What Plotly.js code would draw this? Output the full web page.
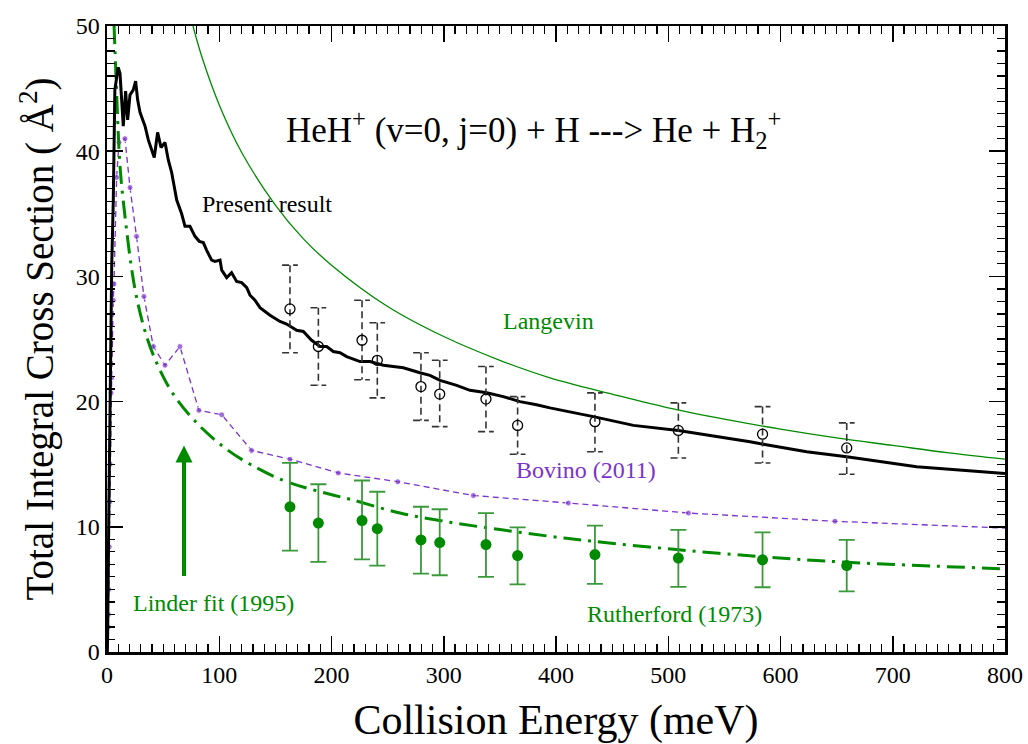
<!DOCTYPE html>
<html>
<head>
<meta charset="utf-8">
<script src="https://cdn.plot.ly/plotly-3.0.1.min.js"></script>
<style>html,body{margin:0;padding:0;background:#fff;}#chart{width:1028px;height:744px;}</style>
</head>
<body>
<div id="chart"></div>
<script>
// ---- Present result (theory, black solid) ----
const presentE = [0.3,0.6,1.5,2.7,4.2,5.6,7,8.5,10,11.6,13,14.5,16.6,18.4,20.5,23.4,25.5,27.3,29.4,31.5,33.9,36.8,39.8,42.1,45.1,48.1,51.7,54.6,57.6,62.1,66.5,69.5,73.9,78.4,82.2,85.8,88.7,93.2,96.2,100.7,102.2,106.6,111,115.5,120,124.5,127.4,131.8,136.3,142.3,145.2,154.1,160,169,174.9,182.3,189.8,195.7,201.6,207.6,213.5,225.4,234.3,246.2,264,278.8,287.7,296.7,311.5,323.4,338.3,353,367.9,382.7,394.6,433.3,469,509,546,572.8,584.7,623.3,659,721.3,800];
const presentS = [0,1.5,10,20,30.8,36.1,44.9,45.8,46.7,46.2,44.4,42.0,44.8,42.5,44.5,44.9,45.6,44.1,43.1,42.5,42.0,40.9,40.1,39.5,41.5,40.3,40.7,39.3,38.3,36.1,35.0,34.0,34.0,33.2,32.8,32.7,32.1,31.3,31.2,31.3,30.5,29.9,30.3,29.6,29.5,29.1,28.5,28.1,27.5,27.1,26.9,26.4,26.2,25.7,25.6,24.9,24.4,24.4,24.0,23.9,23.6,23.2,23.2,22.9,22.7,22.3,22.1,21.7,21.3,20.9,20.7,20.4,20.0,19.75,19.5,18.8,18.1,17.7,17.2,16.8,16.6,16.0,15.6,14.8,14.25];

// ---- Langevin (thin green) ----
const langE = [76.6,85,100,120,150,175,200,250,300,350,394.6,450,500,550,600,650,700,750,800];
const langS = [50,47.4,43.7,39.9,35.7,33.0,30.9,27.6,25.2,23.3,21.9,20.6,19.5,18.6,17.8,17.1,16.5,15.9,15.4];

// ---- Linder fit (1995), green dash-dot ----
const linderE = [6.3,8,10,11.6,14.5,24.9,35.3,45.7,59,79.9,105,127.4,160,198.7,216.5,261,305.6,350,394.6,433,507.5,584.7,659,800];
const linderS = [50,46,41.5,38.8,36.0,29.0,25.2,22.8,20.6,18.3,16.3,15.0,13.6,12.6,12.2,11.1,10.36,9.78,9.24,8.84,8.18,7.6,7.17,6.64];

// ---- Bovino (2011), purple dashed with dots (last entry is the line end at the frame) ----
const bovinoE = [0.8,1.2,1.6,2.0,2.5,2.8,3.6,4.2,5.6,6.2,8.6,10.7,16,20.5,26.3,32.9,41.3,51.7,65,81.9,102.2,128.8,163,206,259,326.4,411,518,648.5,800];
const bovinoS = [2.0,3.0,5.0,8.4,12.0,15.0,20.7,21.9,28.1,29.4,37.9,40.7,41.0,37.1,33.2,28.4,24.4,22.9,24.4,19.3,18.95,16.1,15.4,14.3,13.6,12.5,11.9,11.1,10.44,9.9];

// ---- Experimental (open circles, dashed error bars) ----
const expE  = [163,188.3,227.2,240.8,279.7,296.4,337.6,365.8,434.7,509,584,659];
const expS  = [27.4,24.4,24.9,23.3,21.2,20.6,20.2,18.1,18.4,17.7,17.4,16.3];
const expHi = [30.9,27.5,28.1,26.3,23.9,23.3,22.8,20.4,20.7,19.9,19.6,18.3];
const expLo = [23.9,21.3,21.75,20.3,18.5,18.0,17.6,15.8,16.0,15.5,15.1,14.2];

// ---- Rutherford (1973), green filled circles ----
const rutE  = [163,188.3,227.2,240.8,279.7,296.4,337.6,365.8,434.7,509,584,659];
const rutS  = [11.6,10.3,10.5,9.85,8.95,8.74,8.58,7.7,7.78,7.5,7.36,6.9];
const rutHi = [15.1,13.4,13.7,12.8,11.6,11.4,11.1,9.96,10.1,9.75,9.56,8.95];
const rutLo = [8.1,7.2,7.4,6.9,6.26,6.13,6.0,5.4,5.44,5.2,5.17,4.84];

// axis ticks
const xTickVals = [0,100,200,300,400,500,600,700,800];
const yTickVals = [0,10,20,30,40,50];

// build dashed error bar paths from the experimental arrays
const CAP = 7;
const ebX = [], ebY = [];
for (let i = 0; i < expE.length; i++) {
  const x = expE[i];
  ebX.push(x - CAP, x + CAP, null, x, x, null, x - CAP, x + CAP, null);
  ebY.push(expHi[i], expHi[i], null, expHi[i], expLo[i], null, expLo[i], expLo[i], null);
}

const GREEN = '#008a00';
const PURPLE = '#7a33cc';
const FONT = 'Liberation Serif, Times New Roman, serif';
const bovinoSizes = bovinoE.map((_, i) => (i === bovinoE.length - 1 ? 0 : 6));

const traces = [
  {x: langE, y: langS, mode: 'lines', line: {color: GREEN, width: 1.3, shape: 'spline'}},
  {x: bovinoE, y: bovinoS, mode: 'lines+markers', line: {color: PURPLE, width: 1.3, dash: '6px,4px'}, marker: {color: PURPLE, size: bovinoSizes}},
  {x: linderE, y: linderS, mode: 'lines', line: {color: GREEN, width: 3, dash: '18px,7px,3px,7px', shape: 'spline'}},
  {x: presentE, y: presentS, mode: 'lines', line: {color: '#000', width: 3}},
  {x: ebX, y: ebY, mode: 'lines', line: {color: '#333', width: 1.6, dash: '7px,4px'}, connectgaps: false},
  {x: expE, y: expS, mode: 'markers', marker: {symbol: 'circle-open', size: 10, color: '#000', line: {width: 1.3}}},
  {x: rutE, y: rutS, mode: 'markers', marker: {symbol: 'circle', size: 11, color: GREEN},
   error_y: {type: 'data', symmetric: false,
     array: rutHi.map((h, i) => h - rutS[i]),
     arrayminus: rutLo.map((l, i) => rutS[i] - l),
     color: '#3a9a3a', thickness: 1.8, width: 8}}
];

const annFont = (c) => ({family: FONT, size: 24, color: c});
const layout = {
  width: 1028, height: 744,
  margin: {l: 107, r: 23, t: 26, b: 92},
  paper_bgcolor: '#fff', plot_bgcolor: '#fff',
  showlegend: false,
  font: {family: FONT, color: '#000'},
  xaxis: {
    range: [0, 800], tickvals: xTickVals, ticks: 'inside', ticklen: 16, tickwidth: 1.5, tickcolor: '#000',
    minor: {dtick: 10, ticklen: 8, tickwidth: 1.2, tickcolor: '#000', ticks: 'inside'},
    showline: true, linewidth: 2.5, linecolor: '#000', mirror: 'allticks', showgrid: false, zeroline: false,
    tickfont: {family: FONT, size: 24, color: '#000'},
    title: {text: 'Collision Energy (meV)', font: {family: FONT, size: 42, color: '#000'}, standoff: 18}
  },
  yaxis: {
    range: [0, 50], tickvals: yTickVals, ticks: 'inside', ticklen: 16, tickwidth: 1.5, tickcolor: '#000',
    minor: {dtick: 1, ticklen: 8, tickwidth: 1.2, tickcolor: '#000', ticks: 'inside'},
    showline: true, linewidth: 2.5, linecolor: '#000', mirror: 'allticks', showgrid: false, zeroline: false,
    tickfont: {family: FONT, size: 24, color: '#000'},
    title: {text: 'Total Integral Cross Section ( Å<sup>2</sup>)', font: {family: FONT, size: 39, color: '#000'}, standoff: 10}
  },
  annotations: [
    {xref: 'paper', yref: 'paper', x: 0.4755, y: 0.877, showarrow: false,
     text: 'HeH<sup>+</sup> (v=0, j=0) + H ---> He + H<sub>2</sub><sup>+</sup>',
     font: {family: FONT, size: 35, color: '#000'}},
    {x: 142.6, y: 35.8, showarrow: false, text: 'Present result', font: annFont('#000')},
    {x: 392.9, y: 26.4, showarrow: false, text: 'Langevin', font: annFont(GREEN)},
    {x: 426.7, y: 14.57, showarrow: false, text: 'Bovino (2011)', font: annFont(PURPLE)},
    {x: 95.3, y: 3.95, showarrow: false, text: 'Linder fit (1995)', font: annFont(GREEN)},
    {x: 506, y: 3.0, showarrow: false, text: 'Rutherford (1973)', font: annFont(GREEN)},
    {x: 68.6, y: 16.5, ax: 68.6, ay: 5.95, axref: 'x', ayref: 'y', text: '', showarrow: true,
     arrowhead: 2, arrowsize: 0.85, arrowwidth: 4, arrowcolor: GREEN}
  ]
};

Plotly.newPlot('chart', traces, layout, {staticPlot: true, displayModeBar: false});
</script>
</body>
</html>
